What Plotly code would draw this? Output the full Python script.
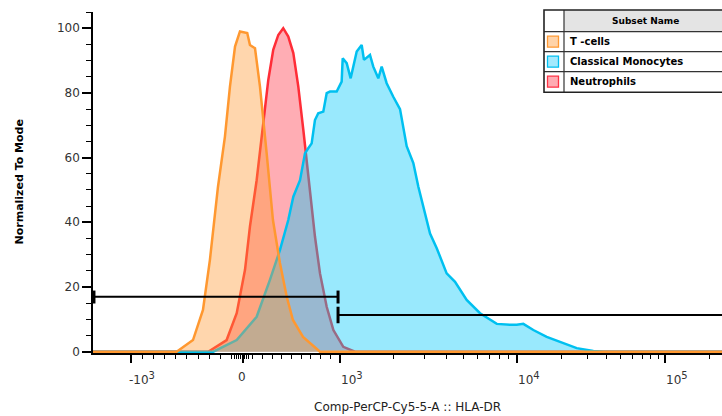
import numpy as np
import plotly.graph_objects as go

# ---------------- data (raw intensity, normalized-to-mode %) ----------------
tcell_x = [-2000, -592, -446, -357, -295, -223, -161, -116, -71, -27, 44, 72, 124, 175,
           244, 309, 381, 451, 515, 619, 794, 500000]
tcell_y = [0, 0, 3.6, 12.9, 28.4, 51, 66.5, 82, 94.3, 99, 98.5, 94.8, 93.8, 82,
           61.4, 40.7, 27.4, 17, 9.8, 4.6, 0, 0]

neut_x = [-2000, -310, -146, -56, 21, 72, 141, 209, 261, 312, 364, 415, 467, 519, 570,
          622, 657, 691, 742, 794, 863, 932, 1044, 1215, 500000]
neut_y = [0, 0, 3.6, 11.9, 25.3, 38.7, 53, 71.6, 84, 93.3, 97.9, 100, 97.4, 92.3, 82,
          68.6, 59.3, 49, 35.6, 24.2, 13.9, 6.7, 1.5, 0, 0]

mono_x = [-2000, -265, -56, 141, 278, 381, 467, 519, 588, 639, 673, 708, 742, 776, 828,
          863, 897, 966, 1022, 1036, 1091, 1149, 1243, 1326, 1366, 1477, 1542,
          1646, 1720, 1835, 2000, 2183, 2381, 2596, 2771, 2958, 3226, 3520, 4004,
          4465, 5196, 6182, 7042, 7684, 9140, 9961, 11030, 12890, 15870, 20540,
          25310, 32780, 38330, 500000]
mono_y = [0, 0, 3.6, 10.8, 22.2, 31.4, 40.7, 47.9, 53, 61.3, 62.9, 64.4, 71.6, 73.7, 74.2,
          79.9, 80.4, 80.4, 83.5, 90.7, 89.2, 84.5, 92.8, 94.8, 90.2, 91.7, 88.1,
          84.5, 88.1, 83, 78.8, 75, 63.5, 58.3, 51, 44.8, 36.5, 32, 24.2,
          21.6, 16, 11.9, 9.8, 8.6, 8.3, 8.3, 8.6, 6.7, 4.6, 2.6,
          1.1, 0.2, 0, 0]

series_names = ["T -cells", "Classical Monocytes", "Neutrophils"]

# gates: [start, end] intensity, level
gate1_x = [-1330, 980]
gate1_level = 17.0
gate1_cap = [14.9, 18.9]
gate2_x = [980, 1000000]
gate2_level = 11.35
gate2_cap = [8.8, 13.9]

# axis ticks
major_vals = [-1000, 0, 1000, 10000, 100000]
major_base = ["-10", "0", "10", "10", "10"]
major_exp = ["3", "", "3", "4", "5"]
minor_vals = ([-100 * k for k in range(1, 10)] + [-20 * k for k in range(1, 5)] +
              [20 * k for k in range(1, 4)] + [100 * k for k in range(1, 10)] +
              [1000 * k for k in range(2, 10)] + [10000 * k for k in range(2, 10)] +
              [100000 * k for k in range(2, 4)])
y_major = [0, 20, 40, 60, 80, 100]

# ---------------- biexponential-like display transform ----------------
NEG_W = 1.155   # display units per 1000 below zero
DEC1_W = 1.825  # width of decade 10^3..10^4
DEC2_W = 1.526  # width of decades above 10^4


def to_display(v):
    v = np.asarray(v, dtype=float)
    out = np.empty_like(v)
    neg = v < 0
    lin = (v >= 0) & (v <= 1e3)
    d1 = (v > 1e3) & (v <= 1e4)
    d2 = v > 1e4
    out[neg] = v[neg] / 1e3 * NEG_W
    out[lin] = v[lin] / 1e3
    out[d1] = 1 + np.log10(v[d1] / 1e3) * DEC1_W
    out[d2] = 1 + DEC1_W + np.log10(v[d2] / 1e4) * DEC2_W
    return out


X_RANGE = [-1.546, 4.938]
Y_RANGE = [-0.4, 105]

# ---------------- figure ----------------
fig = go.Figure()

styles = {
    "Neutrophils": dict(line="rgb(255,45,55)", fill="rgba(255,51,68,0.4)"),
    "Classical Monocytes": dict(line="rgb(0,192,240)", fill="rgba(0,200,250,0.4)"),
    "T -cells": dict(line="rgb(255,152,48)", fill="rgba(255,153,51,0.4)"),
}
data = {
    "T -cells": (tcell_x, tcell_y),
    "Classical Monocytes": (mono_x, mono_y),
    "Neutrophils": (neut_x, neut_y),
}
for name in ["Neutrophils", "Classical Monocytes", "T -cells"]:
    xs, ys = data[name]
    fig.add_trace(go.Scatter(
        x=to_display(xs), y=ys, mode="lines", name=name,
        line=dict(color=styles[name]["line"], width=2.5),
        fill="tozeroy", fillcolor=styles[name]["fill"], showlegend=False,
    ))

# gates
gx1 = to_display(gate1_x)
gx2 = to_display(gate2_x)
for xs, ys in [
    (gx1, [gate1_level, gate1_level]),
    ([gx1[0], gx1[0]], gate1_cap),
    ([gx1[1], gx1[1]], gate1_cap),
    (gx2, [gate2_level, gate2_level]),
    ([gx2[0], gx2[0]], gate2_cap),
]:
    w = 2 if ys[0] == ys[1] else 3
    fig.add_trace(go.Scatter(x=list(xs), y=ys, mode="lines",
                             line=dict(color="black", width=w), showlegend=False,
                             hoverinfo="skip"))

# x tick labels as annotations (left aligned like FlowJo)
for v, b, e in zip(major_vals, major_base, major_exp):
    t = b if not e else b + "<sup><span style='font-size:10px'>" + e + "</span></sup>"
    fig.add_annotation(
        x=float(to_display([v])[0]), y=-0.045, xref="x", yref="paper",
        text=t, showarrow=False, xanchor="center" if v == 0 else "left",
        xshift=-1 if v == 0 else (-4 if v < 0 else -1),
        yanchor="top", font=dict(family="DejaVu Sans", size=12, color="#333"),
    )

# axis titles
fig.add_annotation(x=(19 - 93) / 629, y=0.5, xref="paper", yref="paper",
                   xanchor="center", yanchor="middle",
                   text="<b>Normalized To Mode</b>", textangle=-90, showarrow=False,
                   font=dict(family="DejaVu Sans", size=11, color="black"))
fig.add_annotation(x=0.5, y=-(407 - 353) / 341, xref="paper", yref="paper",
                   xanchor="center", yanchor="middle",
                   text="Comp-PerCP-Cy5-5-A :: HLA-DR", showarrow=False,
                   font=dict(family="DejaVu Sans", size=12, color="#222"))

# ---------------- legend table ----------------
PL, PR, PT, PB = 93, 722, 12, 353


def px(xp):
    return (xp - PL) / (PR - PL)


def py(yp):
    return (PB - yp) / (PB - PT)


shapes = []
shapes.append(dict(type="rect", xref="paper", yref="paper",
                   x0=px(564), x1=px(730), y0=py(31.7), y1=py(10),
                   fillcolor="#E4E4E4", line=dict(width=0)))
shapes.append(dict(type="rect", xref="paper", yref="paper",
                   x0=px(544), x1=px(564), y0=py(31.7), y1=py(10),
                   fillcolor="white", line=dict(width=0)))
shapes.append(dict(type="rect", xref="paper", yref="paper",
                   x0=px(544), x1=px(730), y0=py(92.3), y1=py(31.7),
                   fillcolor="white", line=dict(width=0)))
for yl in [31.7, 51.7, 71.7]:
    shapes.append(dict(type="line", xref="paper", yref="paper",
                       x0=px(544), x1=px(730), y0=py(yl), y1=py(yl),
                       line=dict(color="#333", width=1.2)))
shapes.append(dict(type="line", xref="paper", yref="paper",
                   x0=px(564), x1=px(564), y0=py(92.3), y1=py(10),
                   line=dict(color="#333", width=1.2)))
shapes.append(dict(type="rect", xref="paper", yref="paper",
                   x0=px(544), x1=px(730), y0=py(92.3), y1=py(10),
                   line=dict(color="#222", width=1.6)))

swatch = {
    "T -cells": ("#FFD3A8", "#FF9933"),
    "Classical Monocytes": ("#A3E9FD", "#00BFF0"),
    "Neutrophils": ("#FFABB2", "#FF3344"),
}
for i, name in enumerate(series_names):
    cy = 41.7 + 20 * i
    fc, lc = swatch[name]
    shapes.append(dict(type="rect", xref="paper", yref="paper",
                       x0=px(547.5), x1=px(558.5), y0=py(cy + 5.5), y1=py(cy - 5.5),
                       fillcolor=fc, line=dict(color=lc, width=1.3)))
    fig.add_annotation(x=px(568), y=py(cy), xref="paper", yref="paper",
                       xanchor="left", yanchor="middle", showarrow=False,
                       text="<b>" + name + "</b>",
                       font=dict(family="DejaVu Sans", size=10, color="black"))
fig.add_annotation(x=px(645), y=py(21), xref="paper", yref="paper",
                   xanchor="center", yanchor="middle", showarrow=False,
                   text="<b>Subset Name</b>",
                   font=dict(family="DejaVu Sans", size=9, color="black"))

fig.update_layout(
    width=722, height=416,
    margin=dict(l=PL, r=0, t=PT, b=416 - PB),
    paper_bgcolor="white", plot_bgcolor="white",
    shapes=shapes,
    showlegend=False,
    xaxis=dict(
        range=X_RANGE, showgrid=False, zeroline=False,
        showline=True, linecolor="black", linewidth=2,
        tickmode="array", tickvals=list(to_display(major_vals)),
        ticks="outside", ticklen=8, tickwidth=2, tickcolor="black",
        showticklabels=False,
        minor=dict(tickmode="array", tickvals=list(to_display(minor_vals)),
                   ticks="outside", ticklen=4, tickwidth=1, tickcolor="black"),
    ),
    yaxis=dict(
        range=Y_RANGE, showgrid=False, zeroline=False,
        showline=True, linecolor="black", linewidth=1.5,
        tickmode="array", tickvals=y_major, ticks="outside", ticklen=9,
        tickwidth=1.5, tickcolor="black",
        tickfont=dict(family="DejaVu Sans", size=12, color="#333"),
        minor=dict(dtick=5, tick0=0, ticks="outside", ticklen=5, tickwidth=1,
                   tickcolor="black"),
    ),
)

fig.write_html("out.html")
